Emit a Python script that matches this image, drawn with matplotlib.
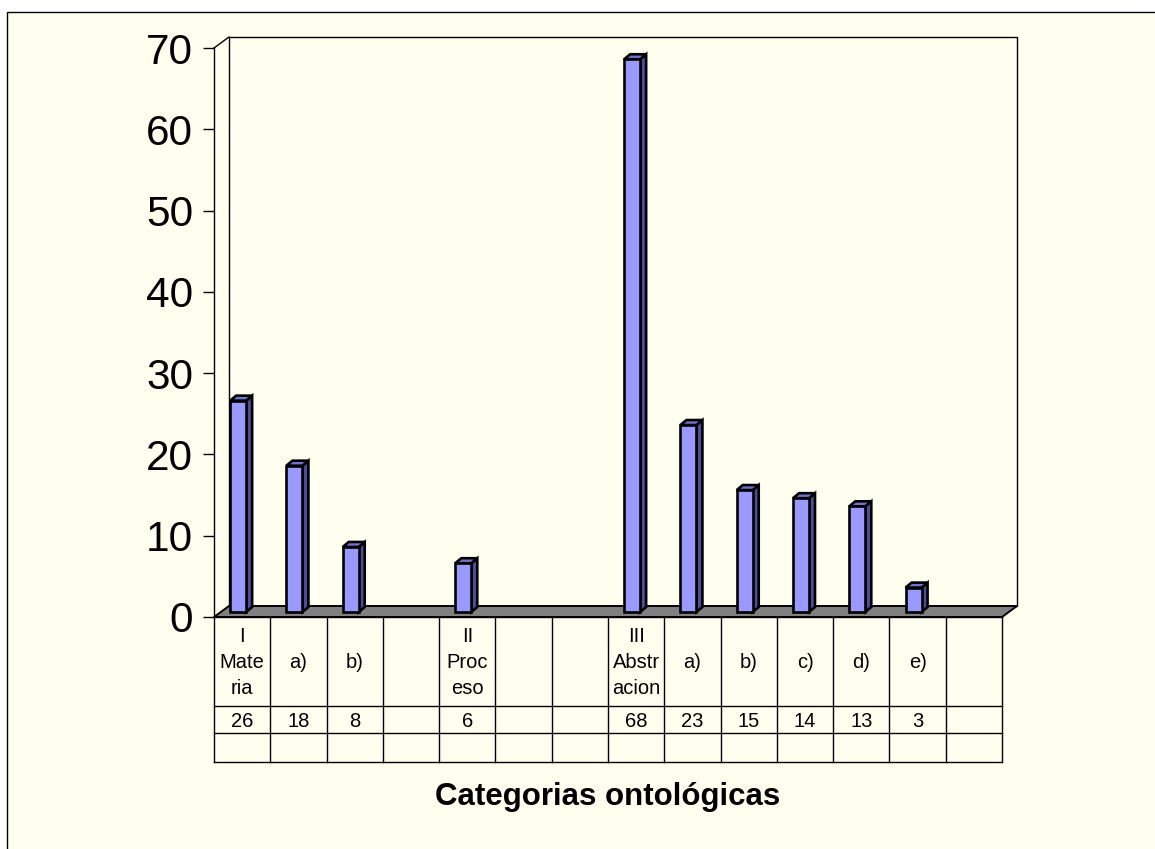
import matplotlib
matplotlib.use("Agg")
import matplotlib.pyplot as plt
from matplotlib.patches import Rectangle, Polygon
import numpy as np

# ---------------- data ----------------
categories = ["I\nMate\nria", "a)", "b)", "", "II\nProc\neso", "", "",
              "III\nAbstr\nacion", "a)", "b)", "c)", "d)", "e)", ""]
values = [26, 18, 8, None, 6, None, None, 68, 23, 15, 14, 13, 3, None]
value_labels = ["26", "18", "8", "", "6", "", "", "68", "23", "15", "14", "13", "3", ""]
yticks = [0, 10, 20, 30, 40, 50, 60, 70]
xlabel = "Categorias ontológicas"

# ---------------- layout / style ----------------
W, H, DPI = 1155, 849, 100
BG = '#FFFFF0'
FRONT = '#9999FF'
SIDE = '#4D4D99'
TOP = '#7373CC'
FLOOR = '#808080'

plt.rcParams['font.family'] = ['Liberation Sans', 'DejaVu Sans']

fig = plt.figure(figsize=(W / DPI, H / DPI), dpi=DPI, facecolor='white')
fig.patches.append(Rectangle((7 / W, -0.1), 1.0, 1.1 - 12 / H, transform=fig.transFigure,
                             facecolor=BG, edgecolor='black', lw=1.0, zorder=-10))

x0, x1 = 214, 1002      # front plot left/right (px)
ytop, y0 = 48, 617      # front top (70) / bottom (0) (px)
n = len(categories)

ax = fig.add_axes([x0 / W, (H - y0) / H, (x1 - x0) / W, (y0 - ytop) / H])
ax.set_zorder(1)
ax.set_xlim(-0.5, n - 0.5)
ax.set_ylim(0, 70)
ax.patch.set_visible(False)
for s in ['top', 'right', 'bottom']:
    ax.spines[s].set_visible(False)
ax.spines['left'].set_linewidth(1.0)
ax.spines['left'].set_zorder(1)
ax.set_yticks(yticks)
ax.set_yticklabels([str(t) for t in yticks])
ax.tick_params(axis='y', length=8, width=1, pad=7, labelsize=30.5, colors='black')
ax.set_xticks([])


def px(dx, dy):
    """convert a pixel offset to data units"""
    o = ax.transData.transform((0, 0))
    p = ax.transData.inverted().transform(o + np.array([dx, dy]))
    return p[0], p[1]


# walls and floor
wdx, wdy = px(15, 11)
ax.add_patch(Rectangle((-0.5 + wdx, wdy), n, 70, facecolor='none', edgecolor='black',
                       lw=1.0, clip_on=False, zorder=1))
ax.plot([-0.5, -0.5 + wdx], [70, 70 + wdy], color='black', lw=1.0, clip_on=False, zorder=1)
ax.add_patch(Polygon([(-0.5, 0), (n - 0.5, 0), (n - 0.5 + wdx, wdy), (-0.5 + wdx, wdy)],
                     closed=True, facecolor=FLOOR, edgecolor='black', lw=1.4,
                     clip_on=False, zorder=2))

# bars
bw, _ = px(16, 0)
boff, bbase = px(-4, 5)
bdx, bdy = px(6, 5)
LW = 1.9
xs = np.arange(n)
for xi, v in zip(xs, values):
    if v is None:
        continue
    xl = xi + boff - bw / 2
    xr = xi + boff + bw / 2
    ax.add_patch(Polygon([(xr, bbase), (xr + bdx, bbase + bdy), (xr + bdx, bbase + v + bdy),
                          (xr, bbase + v)], closed=True, facecolor=SIDE, edgecolor='black',
                         lw=LW, joinstyle='miter', zorder=3, clip_on=False))
    ax.add_patch(Polygon([(xl, bbase + v), (xl + bdx, bbase + v + bdy),
                          (xr + bdx, bbase + v + bdy), (xr, bbase + v)], closed=True,
                         facecolor=TOP, edgecolor='black', lw=LW, joinstyle='miter',
                         zorder=3, clip_on=False))
    ax.bar(xi + boff, v, width=bw, bottom=bbase, color=FRONT, edgecolor='black',
           linewidth=LW, zorder=4, clip_on=False)

# data table
rows = [617, 706, 733, 762]
tax = fig.add_axes([x0 / W, (H - rows[-1]) / H, (x1 - x0) / W, (rows[-1] - rows[0]) / H])
tax.set_zorder(1)
tax.set_xlim(-0.5, n - 0.5)
tax.set_ylim(rows[-1], rows[0])
tax.axis('off')
for r in rows:
    tax.plot([-0.5, n - 0.5], [r, r], color='black', lw=1.0, clip_on=False)
for i in range(n + 1):
    tax.plot([i - 0.5, i - 0.5], [rows[0], rows[-1]], color='black', lw=1.0, clip_on=False)
for xi, lab, vl in zip(xs, categories, value_labels):
    tax.text(xi, (rows[0] + rows[1]) / 2 + 1, lab, ha='center', va='center', fontsize=14.5,
             linespacing=1.5)
    tax.text(xi, (rows[1] + rows[2]) / 2 + 2, vl, ha='center', va='center', fontsize=14.5)

fig.text((x0 + x1) / 2 / W, 1 - 797 / H, xlabel, ha='center', va='center',
         fontsize=22.5, fontweight='bold')

fig.savefig('out.png', dpi=DPI, facecolor='white')
